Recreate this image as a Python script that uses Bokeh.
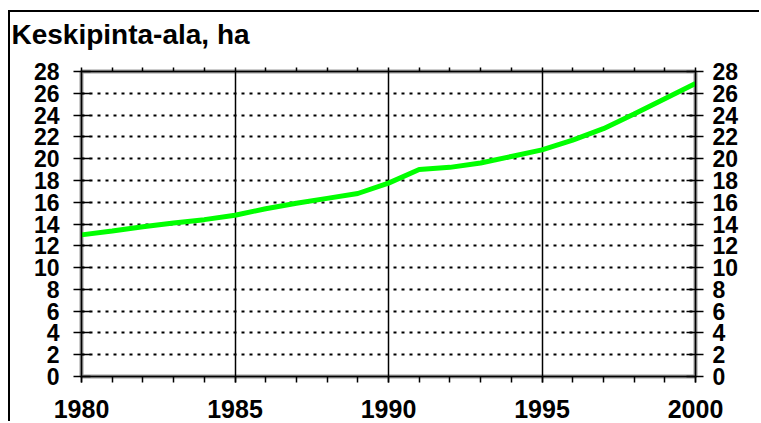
from bokeh.plotting import figure
from bokeh.models import Range1d, LinearAxis, FixedTicker
from bokeh.embed import file_html
from bokeh.resources import INLINE

# Data
years = list(range(1980, 2001))
area = [13.0, 13.35, 13.75, 14.1, 14.4, 14.8, 15.4, 15.9, 16.35, 16.8,
        17.75, 19.0, 19.2, 19.6, 20.2, 20.8, 21.7, 22.75, 24.1, 25.5, 26.9]
x_major = [1980, 1985, 1990, 1995, 2000]
y_ticks = list(range(0, 29, 2))
title_text = "Keskipinta-ala, ha"

FONT = "Liberation Sans"
W, H = 751, 411

p = figure(width=W, height=H, output_backend="svg", toolbar_location=None,
           x_range=Range1d(1980, 2000), y_range=Range1d(0, 28),
           x_axis_location=None, y_axis_location=None,
           min_border_left=71, min_border_right=66,
           min_border_top=59, min_border_bottom=47)
# outer panel frame: top and left edges
p.styles = {"margin-left": "8px", "margin-top": "10px",
            "border-top": "2px solid black", "border-left": "2px solid black"}

p.title.text = title_text
p.title.text_font = FONT
p.title.text_font_size = "28px"
p.title.text_font_style = "bold"
p.title.text_color = "black"
p.title.align = "left"
p.title.offset = -70
p.title.standoff = 0

p.outline_line_color = "#999999"
p.outline_line_width = 4
p.background_fill_color = "white"
p.border_fill_color = "white"

xt = FixedTicker(ticks=x_major, minor_ticks=years)
yt = FixedTicker(ticks=y_ticks)


def style_x_common(ax):
    ax.axis_line_color = "black"
    ax.axis_line_width = 1.5
    ax.major_tick_line_width = 1.5
    ax.minor_tick_line_color = "black"
    ax.minor_tick_line_width = 1.5
    ax.major_tick_in = 0
    ax.minor_tick_in = 0


# bottom axis with year labels
xb = LinearAxis(ticker=xt)
style_x_common(xb)
xb.major_tick_line_color = "black"
xb.major_tick_out = 6
xb.minor_tick_out = 6
xb.major_label_text_font = FONT
xb.major_label_text_font_size = "25px"
xb.major_label_text_font_style = "bold"
xb.major_label_text_color = "black"
xb.major_label_text_line_height = 0.7
xb.major_label_standoff = 17
p.add_layout(xb, "below")

# top axis: short ticks only (minor ticks drawn at every year)
xa = LinearAxis(ticker=xt)
style_x_common(xa)
xa.major_tick_line_color = None
xa.major_tick_out = 22
xa.minor_tick_out = 4
xa.major_label_overrides = {t: "" for t in x_major}
p.add_layout(xa, "above")


def style_y(ax, standoff):
    ax.axis_line_color = "black"
    ax.axis_line_width = 1.5
    ax.major_tick_line_color = "black"
    ax.major_tick_line_width = 1.5
    ax.major_tick_in = 9
    ax.major_tick_out = 8
    ax.minor_tick_line_color = None
    ax.major_label_text_font = FONT
    ax.major_label_text_font_size = "23px"
    ax.major_label_text_font_style = "bold"
    ax.major_label_text_color = "black"
    ax.major_label_standoff = standoff


yl = LinearAxis(ticker=yt)
style_y(yl, 14)
p.add_layout(yl, "left")

yr = LinearAxis(ticker=yt)
style_y(yr, 9)
p.add_layout(yr, "right")

p.xgrid.ticker = FixedTicker(ticks=x_major)
p.xgrid.grid_line_color = "black"
p.xgrid.grid_line_width = 1.5
p.ygrid.ticker = FixedTicker(ticks=y_ticks)
p.ygrid.grid_line_color = "black"
p.ygrid.grid_line_width = 2
p.ygrid.grid_line_dash = "3 5"

p.line(years, area, line_color="#00ff00", line_width=5)

open("out.html", "w").write(file_html(p, INLINE))
